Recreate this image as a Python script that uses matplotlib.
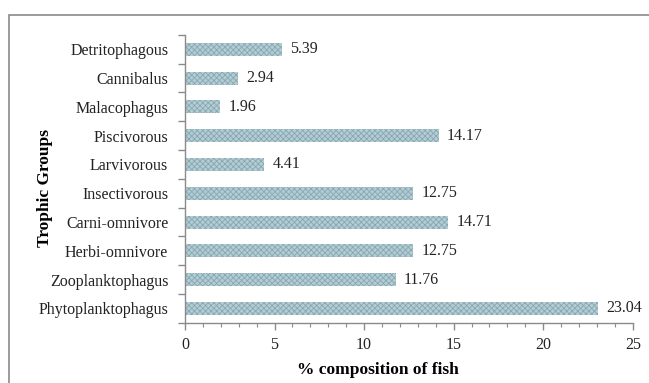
import matplotlib.pyplot as plt
from matplotlib.patches import Rectangle
from matplotlib.ticker import MultipleLocator, FixedLocator

plt.rcParams['font.family'] = ['Liberation Serif', 'DejaVu Serif']
plt.rcParams['hatch.linewidth'] = 0.6

groups = ['Phytoplanktophagus', 'Zooplanktophagus', 'Herbi-omnivore', 'Carni-omnivore',
          'Insectivorous', 'Larvivorous', 'Piscivorous', 'Malacophagus', 'Cannibalus',
          'Detritophagous']
percent = [23.04, 11.76, 12.75, 14.71, 12.75, 4.41, 14.17, 1.96, 2.94, 5.39]

fig = plt.figure(figsize=(6.49, 3.83), dpi=100)
ax = fig.add_axes([0.285, 0.157, 0.69, 0.752])

# outer chart border (only top and left edges fall inside the image)
fig.add_artist(Rectangle((9 / 649, -0.2), 1.2, 0.2 + (383 - 15) / 383,
                         transform=fig.transFigure, fill=False,
                         edgecolor='#8a8a8a', linewidth=1.2))

pos = list(range(len(groups)))
ax.barh(pos, percent, height=0.45, color='#b4ccd3', edgecolor='#86a8b2',
        hatch='xxxxxx', linewidth=0)

for y, v in zip(pos, percent):
    ax.annotate(f'{v:.2f}', (v, y), xytext=(6, 0), textcoords='offset points',
                va='center', ha='left', fontsize=11.5, color='#222222',
                annotation_clip=False)

ax.set_xlim(0, 25)
ax.set_ylim(-0.5, len(groups) - 0.5)
ax.xaxis.set_major_locator(MultipleLocator(5))
ax.xaxis.set_minor_locator(MultipleLocator(1))
ax.set_yticks(pos)
ax.set_yticklabels(groups)
ax.yaxis.set_minor_locator(FixedLocator([i - 0.5 for i in range(len(groups) + 1)]))

for side in ['top', 'right']:
    ax.spines[side].set_visible(False)
for side in ['left', 'bottom']:
    ax.spines[side].set_color('#8a8a8a')
    ax.spines[side].set_linewidth(1.0)

ax.tick_params(axis='y', which='major', length=0, pad=12, labelsize=11.5, labelcolor='#222222')
ax.tick_params(axis='y', which='minor', length=5, color='#8a8a8a', width=1.0)
ax.tick_params(axis='x', which='major', length=5, color='#8a8a8a', width=1.0,
               labelsize=11.5, pad=5, labelcolor='#222222')
ax.tick_params(axis='x', which='minor', length=3, color='#8a8a8a', width=0.8)

ax.set_xlabel('% composition of fish', fontsize=12.5, fontweight='bold')
ax.xaxis.set_label_coords(0.43, -0.135)
ax.set_ylabel('Trophic Groups', fontsize=12.5, fontweight='bold')
ax.yaxis.set_label_coords(-0.295, 0.47)

fig.savefig('out.png', dpi=100)
